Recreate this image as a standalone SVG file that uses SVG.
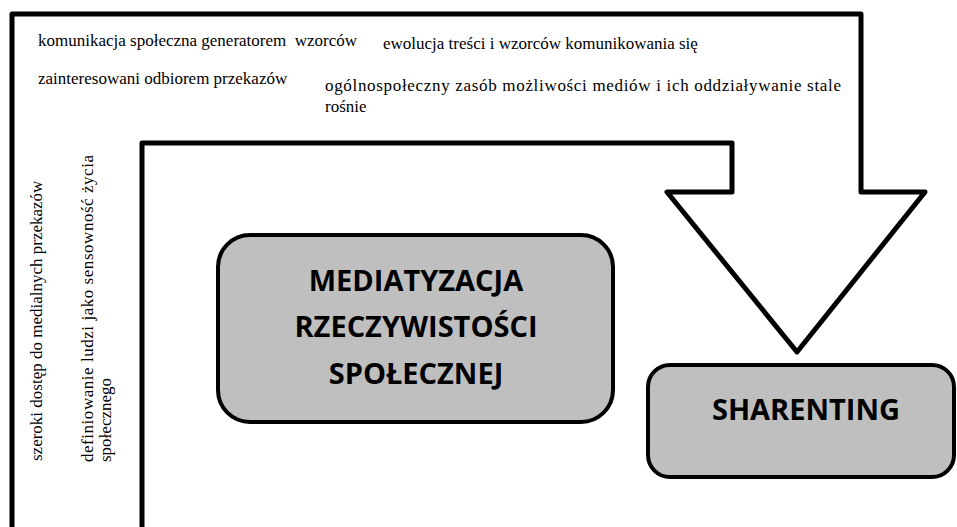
<svg xmlns="http://www.w3.org/2000/svg" width="957" height="527" viewBox="0 0 957 527">
<style>
.t{font-family:"Liberation Serif","Times New Roman",serif;font-size:17px;fill:#000;white-space:pre}
.b{font-family:"Open Sans","Liberation Sans",sans-serif;font-weight:700;font-size:29px;fill:#000;text-anchor:middle}
.box{fill:#bfbfbf;stroke:#000;stroke-width:4}
</style>
<rect width="957" height="527" fill="#fff"/>
<g id="connectors">
<path id="bent-arrow" d="M12,530 L12,14 L861,14 L861,192 L925,192 L797,352 L667,192 L732,192 L732,143 L142,143 L142,530" fill="#fff" stroke="#000" stroke-width="5" stroke-linejoin="round"/>
</g>
<g id="labels">
<text class="t" x="38" y="46" xml:space="preserve">komunikacja społeczna generatorem  wzorców</text>
<text class="t" x="383" y="49">ewolucja treści i wzorców komunikowania się</text>
<text class="t" x="38" y="84">zainteresowani odbiorem przekazów</text>
<text class="t" x="325" y="91" textLength="516" lengthAdjust="spacing">ogólnospołeczny zasób możliwości mediów i ich oddziaływanie stale</text>
<text class="t" x="325" y="112">rośnie</text>
<text class="t" transform="translate(42,461) rotate(-90)">szeroki dostęp do medialnych przekazów</text>
<text class="t" transform="translate(93,462) rotate(-90)" textLength="307" lengthAdjust="spacing">definiowanie ludzi jako sensowność życia</text>
<text class="t" transform="translate(111,462) rotate(-90)">społecznego</text>
</g>
<g id="node-mediatyzacja">
<rect class="box" x="218" y="235" width="395" height="187" rx="32"/>
<text class="b" x="416" y="291">MEDIATYZACJA</text>
<text class="b" x="416" y="337">RZECZYWISTOŚCI</text>
<text class="b" x="416" y="384">SPOŁECZNEJ</text>
</g>
<g id="node-sharenting">
<rect class="box" x="648" y="365" width="306" height="112" rx="22"/>
<text class="b" x="806" y="420">SHARENTING</text>
</g>
</svg>
